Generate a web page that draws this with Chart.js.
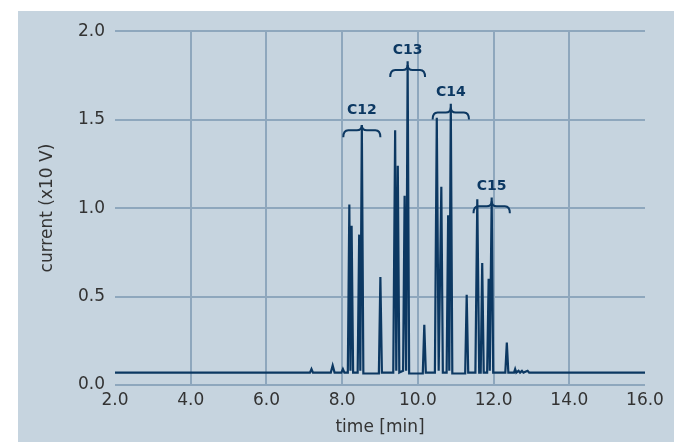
<!DOCTYPE html>
<html>
<head>
<meta charset="utf-8">
<script src="https://cdn.jsdelivr.net/npm/chart.js@4/dist/chart.umd.min.js"></script>
<style>
  html, body { margin: 0; padding: 0; background: #ffffff; }
  #card { position: absolute; left: 18px; top: 11px; width: 656px; height: 431px; background: #c6d4df; }
</style>
</head>
<body>
<div id="card"><canvas id="chart" width="656" height="431"></canvas></div>
<script>
// chromatogram
const timeMin = [2.00, 7.15, 7.19, 7.23, 7.70, 7.75, 7.80, 7.98, 8.02, 8.06,
  8.15, 8.19, 8.22, 8.25, 8.29, 8.41, 8.45, 8.48, 8.52, 8.56,
  8.97, 9.01, 9.05, 9.35, 9.40, 9.43, 9.47, 9.51, 9.61, 9.65,
  9.69, 9.73, 9.77, 10.13, 10.17, 10.21, 10.45, 10.50, 10.55, 10.62,
  10.66, 10.76, 10.80, 10.83, 10.87, 10.91, 11.25, 11.29, 11.33, 11.52,
  11.57, 11.62, 11.66, 11.70, 11.74, 11.83, 11.87, 11.90, 11.95, 11.99,
  12.31, 12.35, 12.39, 12.54, 12.57, 12.60, 12.66, 12.70, 12.75, 12.79,
  12.90, 12.94, 16.00];
const currentV = [0.07, 0.07, 0.09, 0.07, 0.07, 0.11, 0.07, 0.07, 0.09, 0.07,
  0.07, 1.02, 0.08, 0.90, 0.07, 0.07, 0.85, 0.08, 1.47, 0.065,
  0.065, 0.61, 0.07, 0.07, 1.44, 0.08, 1.24, 0.07, 0.08, 1.07,
  0.08, 1.83, 0.065, 0.065, 0.34, 0.07, 0.07, 1.51, 0.08, 1.12,
  0.07, 0.07, 0.96, 0.08, 1.59, 0.065, 0.065, 0.51, 0.07, 0.07,
  1.05, 0.07, 0.07, 0.69, 0.07, 0.07, 0.60, 0.08, 1.06, 0.07,
  0.07, 0.24, 0.07, 0.07, 0.09, 0.07, 0.08, 0.07, 0.08, 0.07,
  0.08, 0.07, 0.07];

// brace annotations
const braceLabels = ['C12', 'C13', 'C14', 'C15'];
const braceCenters = [8.52, 9.73, 10.87, 11.95];
const braceHalfWidths = [0.49, 0.46, 0.48, 0.48];
const braceLevels = [1.44, 1.78, 1.54, 1.01];

const xTicks = [2, 4, 6, 8, 10, 12, 14, 16];
const yTicks = [0, 0.5, 1.0, 1.5, 2.0];

const navy = '#0c3862';
const gridCol = '#8ea7bd';
const textCol = '#333333';
const fontFam = '"DejaVu Sans", sans-serif';

const points = timeMin.map(function (t, i) { return { x: t, y: currentV[i] }; });

const bracePlugin = {
  id: 'braces',
  afterDatasetsDraw: function (chart) {
    const ctx = chart.ctx;
    const xs = chart.scales.x, ys = chart.scales.y;
    ctx.save();
    ctx.strokeStyle = navy;
    ctx.fillStyle = navy;
    ctx.lineWidth = 2;
    for (let i = 0; i < braceLabels.length; i++) {
      const xc = xs.getPixelForValue(braceCenters[i]);
      const x0 = xs.getPixelForValue(braceCenters[i] - braceHalfWidths[i]);
      const x1 = xs.getPixelForValue(braceCenters[i] + braceHalfWidths[i]);
      const y = ys.getPixelForValue(braceLevels[i]);
      ctx.beginPath();
      ctx.moveTo(x0, y + 7);
      ctx.quadraticCurveTo(x0, y, x0 + 5, y);
      ctx.lineTo(xc - 5, y);
      ctx.quadraticCurveTo(xc, y, xc, y - 5);
      ctx.quadraticCurveTo(xc, y, xc + 5, y);
      ctx.lineTo(x1 - 5, y);
      ctx.quadraticCurveTo(x1, y, x1, y + 7);
      ctx.stroke();
      ctx.font = 'bold 14px ' + fontFam;
      ctx.textAlign = 'center';
      ctx.textBaseline = 'middle';
      ctx.fillText(braceLabels[i], xc, y - 20);
    }
    ctx.restore();
  }
};

new Chart(document.getElementById('chart').getContext('2d'), {
  type: 'line',
  data: {
    datasets: [{
      data: points,
      borderColor: navy,
      borderWidth: 2.2,
      pointRadius: 0,
      tension: 0,
      fill: false
    }]
  },
  options: {
    responsive: false,
    animation: false,
    devicePixelRatio: 1,
    layout: { padding: { top: 19, right: 29, left: 0, bottom: 0 } },
    plugins: { legend: { display: false }, tooltip: { enabled: false } },
    scales: {
      x: {
        type: 'linear',
        min: 2, max: 16,
        afterBuildTicks: function (s) { s.ticks = xTicks.map(function (v) { return { value: v }; }); },
        afterFit: function (s) { s.height = 57; },
        ticks: {
          color: textCol, padding: 5, maxRotation: 0,
          font: { family: fontFam, size: 17 },
          callback: function (v) { return Number(v).toFixed(1); }
        },
        grid: {
          drawTicks: false,
          lineWidth: 2,
          color: function (c) { return (c.tick && (c.tick.value === 2 || c.tick.value === 16)) ? 'rgba(0,0,0,0)' : gridCol; }
        },
        border: { display: false },
        title: { display: true, text: 'time [min]', color: textCol, font: { family: fontFam, size: 17 }, padding: { top: 0, bottom: 4 } }
      },
      y: {
        min: 0, max: 2,
        afterBuildTicks: function (s) { s.ticks = yTicks.map(function (v) { return { value: v }; }); },
        afterFit: function (s) { s.width = 97; },
        ticks: {
          color: textCol, padding: 10,
          font: { family: fontFam, size: 17 },
          callback: function (v) { return Number(v).toFixed(1); }
        },
        grid: { drawTicks: false, lineWidth: 2, color: gridCol },
        border: { display: false },
        title: { display: true, text: 'current (x10 V)', color: textCol, font: { family: fontFam, size: 17 }, padding: { top: 19, bottom: 0 } }
      }
    }
  },
  plugins: [bracePlugin]
});
</script>
</body>
</html>
